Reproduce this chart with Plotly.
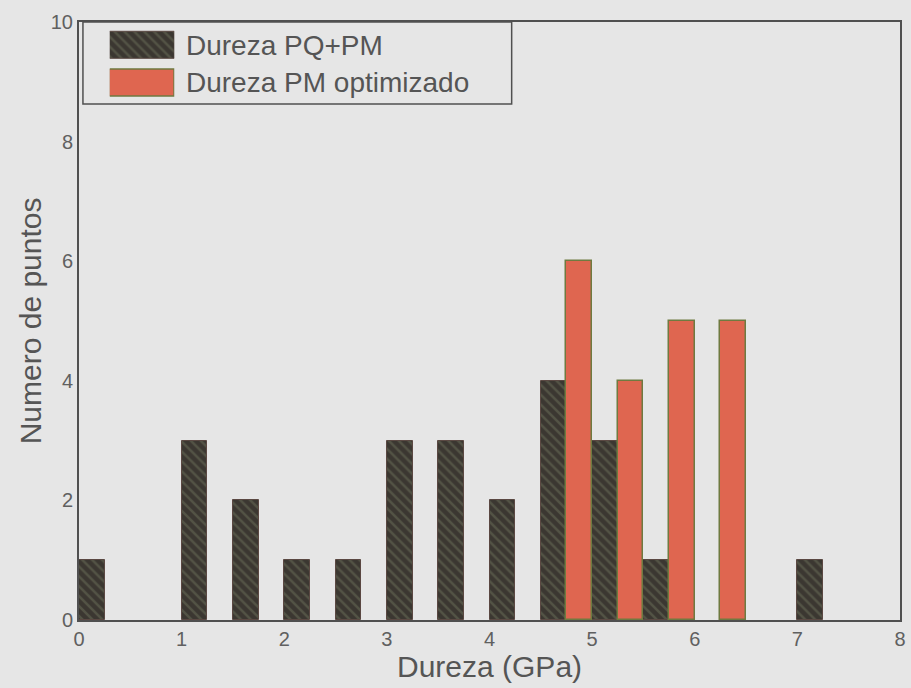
import plotly.graph_objects as go

# Histogram bins of 0.5 GPa, given by their centres
bin_centers = [0.25, 0.75, 1.25, 1.75, 2.25, 2.75, 3.25, 3.75,
               4.25, 4.75, 5.25, 5.75, 6.25, 6.75, 7.25, 7.75]
counts_pq_pm = [1, 0, 3, 2, 1, 1, 3, 3, 2, 4, 3, 1, 0, 0, 1, 0]
counts_pm_opt = [0, 0, 0, 0, 0, 0, 0, 0, 0, 6, 4, 5, 5, 0, 0, 0]

series_names = ["Dureza PQ+PM", "Dureza PM optimizado"]
x_ticks = [0, 1, 2, 3, 4, 5, 6, 7, 8]
y_ticks = [0, 2, 4, 6, 8, 10]

BG = "#e6e6e6"
INK = "#555555"
DARK_BG = "#3b3731"
DARK_FG = "#6b705a"
ORANGE = "#df6650"
ORANGE_EDGE = "#6f7a40"
FONT = "Liberation Sans, Arial, sans-serif"


def edge_widths(counts, w):
    # no outline on empty bins, so nothing is drawn along the baseline
    return [w if c else 0 for c in counts]


def dark_marker(widths):
    return dict(
        color=DARK_BG,
        pattern=dict(shape="\\", fgcolor=DARK_FG, bgcolor=DARK_BG, size=7, solidity=0.35),
        line=dict(color="#5a4842", width=widths),
    )


def orange_marker(widths):
    return dict(color=ORANGE, line=dict(color=ORANGE_EDGE, width=widths))


fig = go.Figure()

# Each bin is split: left half PQ+PM, right half PM optimizado
fig.add_trace(go.Bar(x=bin_centers, y=counts_pq_pm, width=0.25, offset=-0.25,
                     marker=dark_marker(edge_widths(counts_pq_pm, 1)),
                     name=series_names[0], showlegend=False))
fig.add_trace(go.Bar(x=bin_centers, y=counts_pm_opt, width=0.25, offset=0.0,
                     marker=orange_marker(edge_widths(counts_pm_opt, 1.5)),
                     name=series_names[1], showlegend=False))

# Legend swatches drawn as bars on a small inset axis
fig.add_trace(go.Bar(x=[1], y=[1], orientation="h", width=0.72, marker=dark_marker(1),
                     xaxis="x2", yaxis="y2", showlegend=False, hoverinfo="skip"))
fig.add_trace(go.Bar(x=[1], y=[0], orientation="h", width=0.72, marker=orange_marker(1.5),
                     xaxis="x2", yaxis="y2", showlegend=False, hoverinfo="skip"))

axis_common = dict(showline=True, mirror=True, linecolor="#505050", linewidth=2,
                   showgrid=False, zeroline=False, ticks="",
                   tickfont=dict(family=FONT, size=20, color="#606060"))

fig.update_layout(
    width=911, height=688,
    margin=dict(l=79, r=5, t=22, b=68),
    paper_bgcolor=BG, plot_bgcolor=BG,
    barmode="overlay", bargap=0,
    showlegend=False,
    xaxis=dict(range=[0, 8], tickvals=x_ticks, **axis_common),
    yaxis=dict(range=[0, 10], tickvals=y_ticks, **axis_common),
    xaxis2=dict(domain=[0.0375, 0.1161], range=[0, 1], visible=False, anchor="y2"),
    yaxis2=dict(domain=[0.8666, 0.9920], range=[-0.5, 1.5], visible=False, anchor="x2"),
)

# Legend frame and labels
fig.add_shape(type="rect", xref="paper", yref="paper",
              x0=0.0048, x1=0.527, y0=0.8629, y1=1.0,
              line=dict(color="#505050", width=1.5), fillcolor="rgba(0,0,0,0)")
for label, yp in zip(series_names, [0.9607, 0.8980]):
    fig.add_annotation(text=label, xref="paper", yref="paper", x=0.128, y=yp,
                       xanchor="left", yanchor="middle", showarrow=False,
                       font=dict(family=FONT, size=28, color=INK))

# Axis titles
fig.add_annotation(text="Dureza (GPa)", xref="paper", yref="paper", x=0.5, y=-0.077,
                   xanchor="center", yanchor="middle", showarrow=False,
                   font=dict(family=FONT, size=30, color=INK))
fig.add_annotation(text="Numero de puntos", xref="paper", yref="paper", x=-0.0593, y=0.5,
                   xanchor="center", yanchor="middle", textangle=-90, showarrow=False,
                   font=dict(family=FONT, size=30, color=INK))

fig.write_html("out.html")
